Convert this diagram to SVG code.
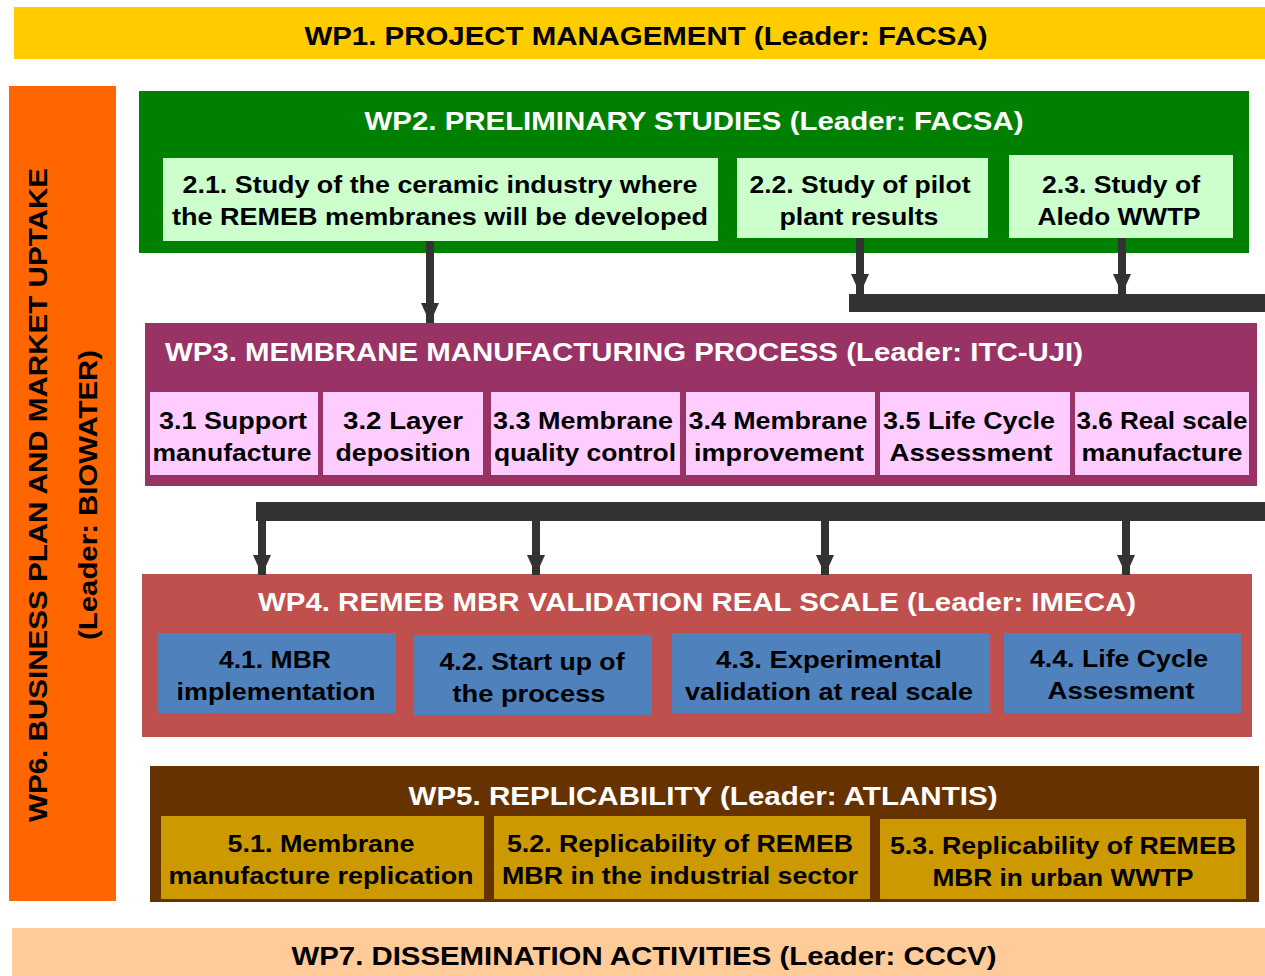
<svg xmlns="http://www.w3.org/2000/svg" width="1265" height="976" viewBox="0 0 1265 976">
<style>
text{font-family:"Liberation Sans",Arial,sans-serif;font-weight:bold;text-anchor:middle}
.t{font-size:26px}
.s{font-size:24px;fill:#000}
.w{fill:#fff}
.k{fill:#000}
.ar{stroke:#333;stroke-width:8;fill:none}
</style>
<defs>
<marker id="ah" viewBox="0 0 20 18" refX="20" refY="9" markerWidth="20" markerHeight="18" markerUnits="userSpaceOnUse" orient="auto">
<path d="M0,0 L20,9 L0,18 z" fill="#333"/>
</marker>
</defs>
<rect width="1265" height="976" fill="#fff"/>

<g id="wp1">
<rect x="14" y="7" width="1251" height="52" fill="#FFCC00"/>
<text class="t k" x="646" y="45" textLength="683" lengthAdjust="spacingAndGlyphs">WP1. PROJECT MANAGEMENT (Leader: FACSA)</text>
</g>

<g id="wp6">
<rect x="9" y="86" width="107" height="815" fill="#FF6600"/>
<text class="t k" transform="translate(47,495) rotate(-90)" textLength="654" lengthAdjust="spacingAndGlyphs">WP6. BUSINESS PLAN AND MARKET UPTAKE</text>
<text class="t k" transform="translate(97,495) rotate(-90)" textLength="290" lengthAdjust="spacingAndGlyphs">(Leader: BIOWATER)</text>
</g>

<g id="wp2">
<rect x="139" y="91" width="1110" height="162" fill="#008000"/>
<text class="t w" x="694" y="130" textLength="659" lengthAdjust="spacingAndGlyphs">WP2. PRELIMINARY STUDIES (Leader: FACSA)</text>
</g>
<g id="t2-1">
<rect x="163" y="158" width="555" height="83" fill="#CCFFCC"/>
<text class="s" x="440" y="193" textLength="515" lengthAdjust="spacingAndGlyphs">2.1. Study of the ceramic industry where</text>
<text class="s" x="440" y="225" textLength="536" lengthAdjust="spacingAndGlyphs">the REMEB membranes will be developed</text>
</g>
<g id="t2-2">
<rect x="737" y="158" width="251" height="80" fill="#CCFFCC"/>
<text class="s" x="860" y="193" textLength="221" lengthAdjust="spacingAndGlyphs">2.2. Study of pilot</text>
<text class="s" x="859" y="225" textLength="159" lengthAdjust="spacingAndGlyphs">plant results</text>
</g>
<g id="t2-3">
<rect x="1009" y="155" width="224" height="83" fill="#CCFFCC"/>
<text class="s" x="1121" y="193" textLength="158" lengthAdjust="spacingAndGlyphs">2.3. Study of</text>
<text class="s" x="1119" y="225" textLength="163" lengthAdjust="spacingAndGlyphs">Aledo WWTP</text>
</g>

<g id="wp3">
<rect x="145" y="323" width="1112" height="163" fill="#993366"/>
<text class="t w" x="624" y="361" textLength="918" lengthAdjust="spacingAndGlyphs">WP3. MEMBRANE MANUFACTURING PROCESS (Leader: ITC-UJI)</text>
</g>
<g id="t3-1">
<rect x="150" y="392" width="168" height="83" fill="#FFCCFF"/>
<text class="s" x="233" y="429" textLength="148" lengthAdjust="spacingAndGlyphs">3.1 Support</text>
<text class="s" x="232" y="461" textLength="159" lengthAdjust="spacingAndGlyphs">manufacture</text>
</g>
<g id="t3-2">
<rect x="323" y="392" width="160" height="83" fill="#FFCCFF"/>
<text class="s" x="403" y="429" textLength="120" lengthAdjust="spacingAndGlyphs">3.2 Layer</text>
<text class="s" x="403" y="461" textLength="135" lengthAdjust="spacingAndGlyphs">deposition</text>
</g>
<g id="t3-3">
<rect x="491" y="392" width="189" height="83" fill="#FFCCFF"/>
<text class="s" x="583" y="429" textLength="180" lengthAdjust="spacingAndGlyphs">3.3 Membrane</text>
<text class="s" x="585" y="461" textLength="182" lengthAdjust="spacingAndGlyphs">quality control</text>
</g>
<g id="t3-4">
<rect x="686" y="392" width="189" height="83" fill="#FFCCFF"/>
<text class="s" x="778" y="429" textLength="179" lengthAdjust="spacingAndGlyphs">3.4 Membrane</text>
<text class="s" x="779" y="461" textLength="170" lengthAdjust="spacingAndGlyphs">improvement</text>
</g>
<g id="t3-5">
<rect x="880" y="392" width="190" height="83" fill="#FFCCFF"/>
<text class="s" x="969" y="429" textLength="172" lengthAdjust="spacingAndGlyphs">3.5 Life Cycle</text>
<text class="s" x="971" y="461" textLength="163" lengthAdjust="spacingAndGlyphs">Assessment</text>
</g>
<g id="t3-6">
<rect x="1075" y="392" width="174" height="83" fill="#FFCCFF"/>
<text class="s" x="1162" y="429" textLength="171" lengthAdjust="spacingAndGlyphs">3.6 Real scale</text>
<text class="s" x="1162" y="461" textLength="161" lengthAdjust="spacingAndGlyphs">manufacture</text>
</g>

<g id="wp4">
<rect x="142" y="574" width="1110" height="163" fill="#C0504D"/>
<text class="t w" x="697" y="611" textLength="878" lengthAdjust="spacingAndGlyphs">WP4. REMEB MBR VALIDATION REAL SCALE (Leader: IMECA)</text>
</g>
<g id="t4-1">
<rect x="158" y="633" width="238" height="80" fill="#4F81BD"/>
<text class="s" x="275" y="668" textLength="112" lengthAdjust="spacingAndGlyphs">4.1. MBR</text>
<text class="s" x="276" y="700" textLength="199" lengthAdjust="spacingAndGlyphs">implementation</text>
</g>
<g id="t4-2">
<rect x="414" y="635" width="238" height="80" fill="#4F81BD"/>
<text class="s" x="532" y="670" textLength="185" lengthAdjust="spacingAndGlyphs">4.2. Start up of</text>
<text class="s" x="529" y="702" textLength="153" lengthAdjust="spacingAndGlyphs">the process</text>
</g>
<g id="t4-3">
<rect x="672" y="633" width="318" height="80" fill="#4F81BD"/>
<text class="s" x="829" y="668" textLength="226" lengthAdjust="spacingAndGlyphs">4.3. Experimental</text>
<text class="s" x="829" y="700" textLength="288" lengthAdjust="spacingAndGlyphs">validation at real scale</text>
</g>
<g id="t4-4">
<rect x="1004" y="633" width="237" height="80" fill="#4F81BD"/>
<text class="s" x="1119" y="667" textLength="178" lengthAdjust="spacingAndGlyphs">4.4. Life Cycle</text>
<text class="s" x="1121" y="699" textLength="147" lengthAdjust="spacingAndGlyphs">Assesment</text>
</g>

<g id="wp5">
<rect x="150" y="766" width="1109" height="136" fill="#663300"/>
<text class="t w" x="703" y="805" textLength="589" lengthAdjust="spacingAndGlyphs">WP5. REPLICABILITY (Leader: ATLANTIS)</text>
</g>
<g id="t5-1">
<rect x="161" y="816" width="323" height="83" fill="#CC9900"/>
<text class="s" x="321" y="852" textLength="187" lengthAdjust="spacingAndGlyphs">5.1. Membrane</text>
<text class="s" x="321" y="884" textLength="305" lengthAdjust="spacingAndGlyphs">manufacture replication</text>
</g>
<g id="t5-2">
<rect x="494" y="816" width="376" height="83" fill="#CC9900"/>
<text class="s" x="680" y="852" textLength="346" lengthAdjust="spacingAndGlyphs">5.2. Replicability of REMEB</text>
<text class="s" x="680" y="884" textLength="356" lengthAdjust="spacingAndGlyphs">MBR in the industrial sector</text>
</g>
<g id="t5-3">
<rect x="880" y="819" width="366" height="80" fill="#CC9900"/>
<text class="s" x="1063" y="854" textLength="346" lengthAdjust="spacingAndGlyphs">5.3. Replicability of REMEB</text>
<text class="s" x="1063" y="886" textLength="261" lengthAdjust="spacingAndGlyphs">MBR in urban WWTP</text>
</g>

<g id="wp7">
<rect x="12" y="928" width="1253" height="48" fill="#FFCC99"/>
<text class="t k" x="644" y="965" textLength="705" lengthAdjust="spacingAndGlyphs">WP7. DISSEMINATION ACTIVITIES (Leader: CCCV)</text>
</g>

<g id="connectors">
<rect x="849" y="294" width="416" height="18" fill="#333"/>
<rect x="256" y="502" width="1009" height="19" fill="#333"/>
<line class="ar" x1="430" y1="241" x2="430" y2="323" marker-end="url(#ah)"/>
<line class="ar" x1="860" y1="238" x2="860" y2="294" marker-end="url(#ah)"/>
<line class="ar" x1="1122" y1="238" x2="1122" y2="294" marker-end="url(#ah)"/>
<line class="ar" x1="262" y1="515" x2="262" y2="575" marker-end="url(#ah)"/>
<line class="ar" x1="536" y1="515" x2="536" y2="575" marker-end="url(#ah)"/>
<line class="ar" x1="825" y1="515" x2="825" y2="575" marker-end="url(#ah)"/>
<line class="ar" x1="1126" y1="515" x2="1126" y2="575" marker-end="url(#ah)"/>
</g>
</svg>
